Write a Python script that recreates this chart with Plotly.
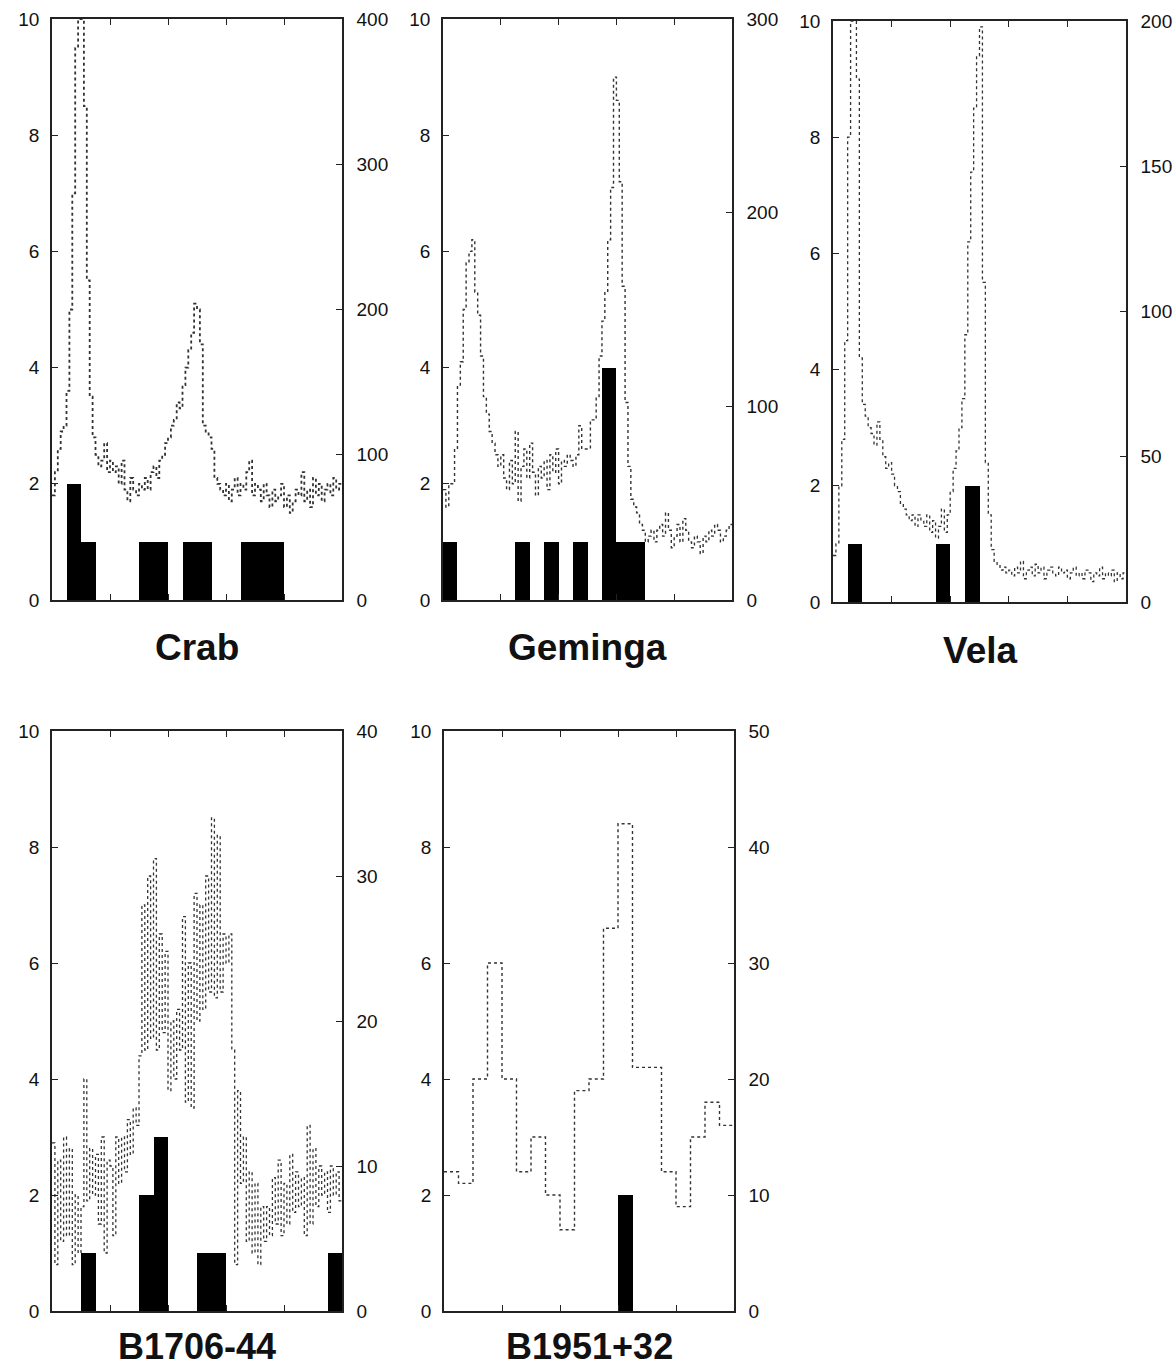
import plotly.graph_objects as go

# ---------------- data ----------------
pulsar_names = ["Crab", "Geminga", "Vela", "B1706-44", "B1951+32"]

# event histograms (left axis, 20 phase bins)
crab_events = [0, 2, 1, 0, 0, 0, 1, 1, 0, 1, 1, 0, 0, 1, 1, 1, 0, 0, 0, 0]
geminga_events = [1, 0, 0, 0, 0, 1, 0, 1, 0, 1, 0, 4, 1, 1, 0, 0, 0, 0, 0, 0]
vela_events = [0, 1, 0, 0, 0, 0, 0, 1, 0, 2, 0, 0, 0, 0, 0, 0, 0, 0, 0, 0]
b1706_events = [0, 0, 1, 0, 0, 0, 2, 3, 0, 0, 1, 1, 0, 0, 0, 0, 0, 0, 0, 1]
b1951_events = [0, 0, 0, 0, 0, 0, 0, 0, 0, 0, 0, 0, 2, 0, 0, 0, 0, 0, 0, 0]

# EGRET light curves (right axis, counts)
crab_curve = [72, 88, 104, 116, 120, 144, 200, 280, 380, 400,
              400, 340, 220, 140, 112, 100, 92, 96, 108, 88,
              96, 88, 92, 80, 96, 76, 68, 84, 76, 72,
              80, 76, 84, 76, 88, 92, 84, 96, 100, 108,
              112, 120, 124, 136, 132, 148, 160, 172, 184, 204,
              200, 176, 120, 116, 112, 104, 84, 80, 76, 72,
              80, 68, 76, 84, 72, 80, 76, 88, 96, 72,
              80, 76, 68, 80, 72, 64, 76, 68, 72, 80,
              64, 72, 60, 68, 76, 72, 88, 68, 76, 64,
              84, 72, 80, 68, 76, 80, 72, 84, 76, 80]
geminga_curve = [57, 48, 60, 60, 78, 111, 123, 150, 174, 180,
                 186, 159, 147, 126, 105, 96, 87, 81, 75, 69,
                 75, 63, 57, 72, 60, 87, 51, 69, 78, 63,
                 81, 66, 54, 69, 63, 72, 57, 75, 66, 78,
                 60, 72, 69, 75, 72, 69, 75, 90, 78, 78,
                 78, 93, 93, 105, 126, 144, 159, 186, 213, 270,
                 258, 216, 162, 102, 69, 52, 48, 45, 39, 36,
                 30, 33, 36, 30, 36, 39, 33, 45, 36, 27,
                 33, 39, 30, 42, 36, 30, 27, 33, 30, 24,
                 33, 30, 36, 33, 39, 36, 30, 33, 36, 39]
vela_curve = [16, 20, 40, 56, 90, 160, 200, 200, 180, 84,
              68, 64, 60, 58, 54, 62, 56, 50, 46, 48,
              44, 40, 38, 34, 32, 30, 28, 30, 26, 30,
              28, 26, 30, 24, 28, 22, 26, 32, 24, 30,
              38, 46, 52, 60, 70, 92, 124, 148, 170, 188,
              198, 110, 48, 30, 18, 14, 13, 11, 12, 10,
              11, 9, 12, 10, 14, 8, 11, 12, 9, 13,
              10, 12, 8, 11, 12, 10, 9, 12, 10, 11,
              8, 10, 12, 9, 10, 8, 11, 10, 7, 10,
              9, 12, 8, 10, 9, 11, 7, 10, 8, 10]
b1706_curve = [11.6, 3.2, 10.4, 4.8, 12, 5.2, 11.2, 3.2, 8, 4,
               7.2, 16, 7.6, 11.2, 8, 10.8, 6, 12, 4, 10.4,
               10, 5.2, 12, 8.8, 12, 9.6, 13.2, 10.8, 14, 12.8,
               17.6, 28, 18, 30, 18.8, 31.2, 18, 26, 19.2, 24.8,
               15.2, 20, 16, 20.8, 18, 27.2, 14.4, 24, 14, 28.8,
               20, 28, 20.8, 30, 22, 34, 21.6, 32.8, 22, 26,
               24, 26, 18, 3.2, 15.2, 8.8, 12, 4.8, 9.6, 4,
               8.8, 3.2, 7.2, 4.8, 7.2, 5.2, 9.2, 6, 10.4, 5.2,
               8.8, 6, 10.8, 6.8, 9.6, 7.2, 9.2, 5.2, 12.8, 6,
               11.2, 7.2, 10, 8, 9.6, 6.8, 10, 8, 9.6, 7.6]
b1951_curve = [12, 11, 20, 30, 20, 12, 15, 10, 7, 19,
               20, 33, 42, 21, 21, 12, 9, 15, 18, 16]

events = [crab_events, geminga_events, vela_events, b1706_events, b1951_events]
curves = [crab_curve, geminga_curve, vela_curve, b1706_curve, b1951_curve]
right_max = [400, 300, 200, 40, 50]
right_step = [100, 100, 50, 10, 10]
left_ticks = [0, 2, 4, 6, 8, 10]
phase_ticks = [0.2, 0.4, 0.6, 0.8]

# ---------------- layout (page pixel boxes) ----------------
W, H = 1176, 1368
boxes = [(52, 342, 19, 600), (443, 732, 19, 600), (833, 1126, 21, 602),
         (52, 342, 731, 1311), (444, 734, 731, 1311)]
title_y = [647, 647, 650, 1346, 1346]
title_size = [37, 37, 37, 36, 36]
curve_widths = [1.8, 1.4, 1.3, 1.3, 1.4]

fig = go.Figure()
layout = {}
annotations = []
axcol = "#222"
tickfont = dict(family="Liberation Sans, Arial, sans-serif", size=19, color="#111")

for k in range(5):
    x0, x1, y0, y1 = boxes[k]
    xd = [x0 / W, x1 / W]
    yd = [1 - y1 / H, 1 - y0 / H]
    xa = "x" if k == 0 else f"x{k+1}"
    ya = "y" if k == 0 else f"y{2*k+1}"
    ya2 = f"y{2*k+2}"
    xkey = "xaxis" if k == 0 else f"xaxis{k+1}"
    ykey = "yaxis" if k == 0 else f"yaxis{2*k+1}"
    y2key = f"yaxis{2*k+2}"

    ev = events[k]
    nb = len(ev)
    fig.add_trace(go.Bar(
        x=[(i + 0.5) / nb for i in range(nb)], y=ev, width=1.0 / nb,
        marker=dict(color="black", line=dict(width=0)),
        xaxis=xa, yaxis=ya, showlegend=False))

    cv = curves[k]
    n = len(cv)
    fig.add_trace(go.Scatter(
        x=[i / n for i in range(n + 1)], y=list(cv) + [cv[-1]],
        mode="lines", line=dict(shape="hv", dash="dot", color="#333", width=curve_widths[k]),
        xaxis=xa, yaxis=ya2, showlegend=False))

    layout[xkey] = dict(domain=xd, anchor=ya, range=[0, 1], showline=True, linecolor=axcol,
                        linewidth=1.5, mirror="ticks", ticks="inside", ticklen=6, tickcolor=axcol,
                        tickvals=phase_ticks, showticklabels=False, showgrid=False, zeroline=False,
                        automargin=False)
    layout[ykey] = dict(domain=yd, anchor=xa, range=[0, 10], showline=True, linecolor=axcol,
                        linewidth=1.5, ticks="inside", ticklen=6, tickcolor=axcol,
                        tickvals=left_ticks, tickfont=tickfont, showgrid=False, zeroline=False,
                        ticklabelstandoff=7, automargin=False)
    rt = list(range(0, right_max[k] + 1, right_step[k]))
    layout[y2key] = dict(overlaying=ya, anchor=xa, side="right", range=[0, right_max[k]],
                         showline=True, linecolor=axcol, linewidth=1.5, ticks="inside",
                         ticklen=6, tickcolor=axcol, tickvals=rt, tickfont=tickfont,
                         showgrid=False, zeroline=False, ticklabelstandoff=9, automargin=False)

    annotations.append(dict(text=f"<b>{pulsar_names[k]}</b>", x=(x0 + x1) / 2 / W,
                            y=1 - title_y[k] / H, xref="paper", yref="paper",
                            xanchor="center", yanchor="middle", showarrow=False,
                            font=dict(family="Liberation Sans, Arial, sans-serif",
                                      size=title_size[k], color="#111")))

fig.update_layout(width=W, height=H, margin=dict(l=0, r=0, t=0, b=0, pad=0, autoexpand=False),
                  paper_bgcolor="white", plot_bgcolor="white", bargap=0,
                  annotations=annotations, **layout)

# remove the default page margin so the figure fills the 1176x1368 window exactly
fig.write_html("out.html", config={"displayModeBar": False},
               post_script="document.body.style.margin='0';document.body.style.overflow='hidden';")
